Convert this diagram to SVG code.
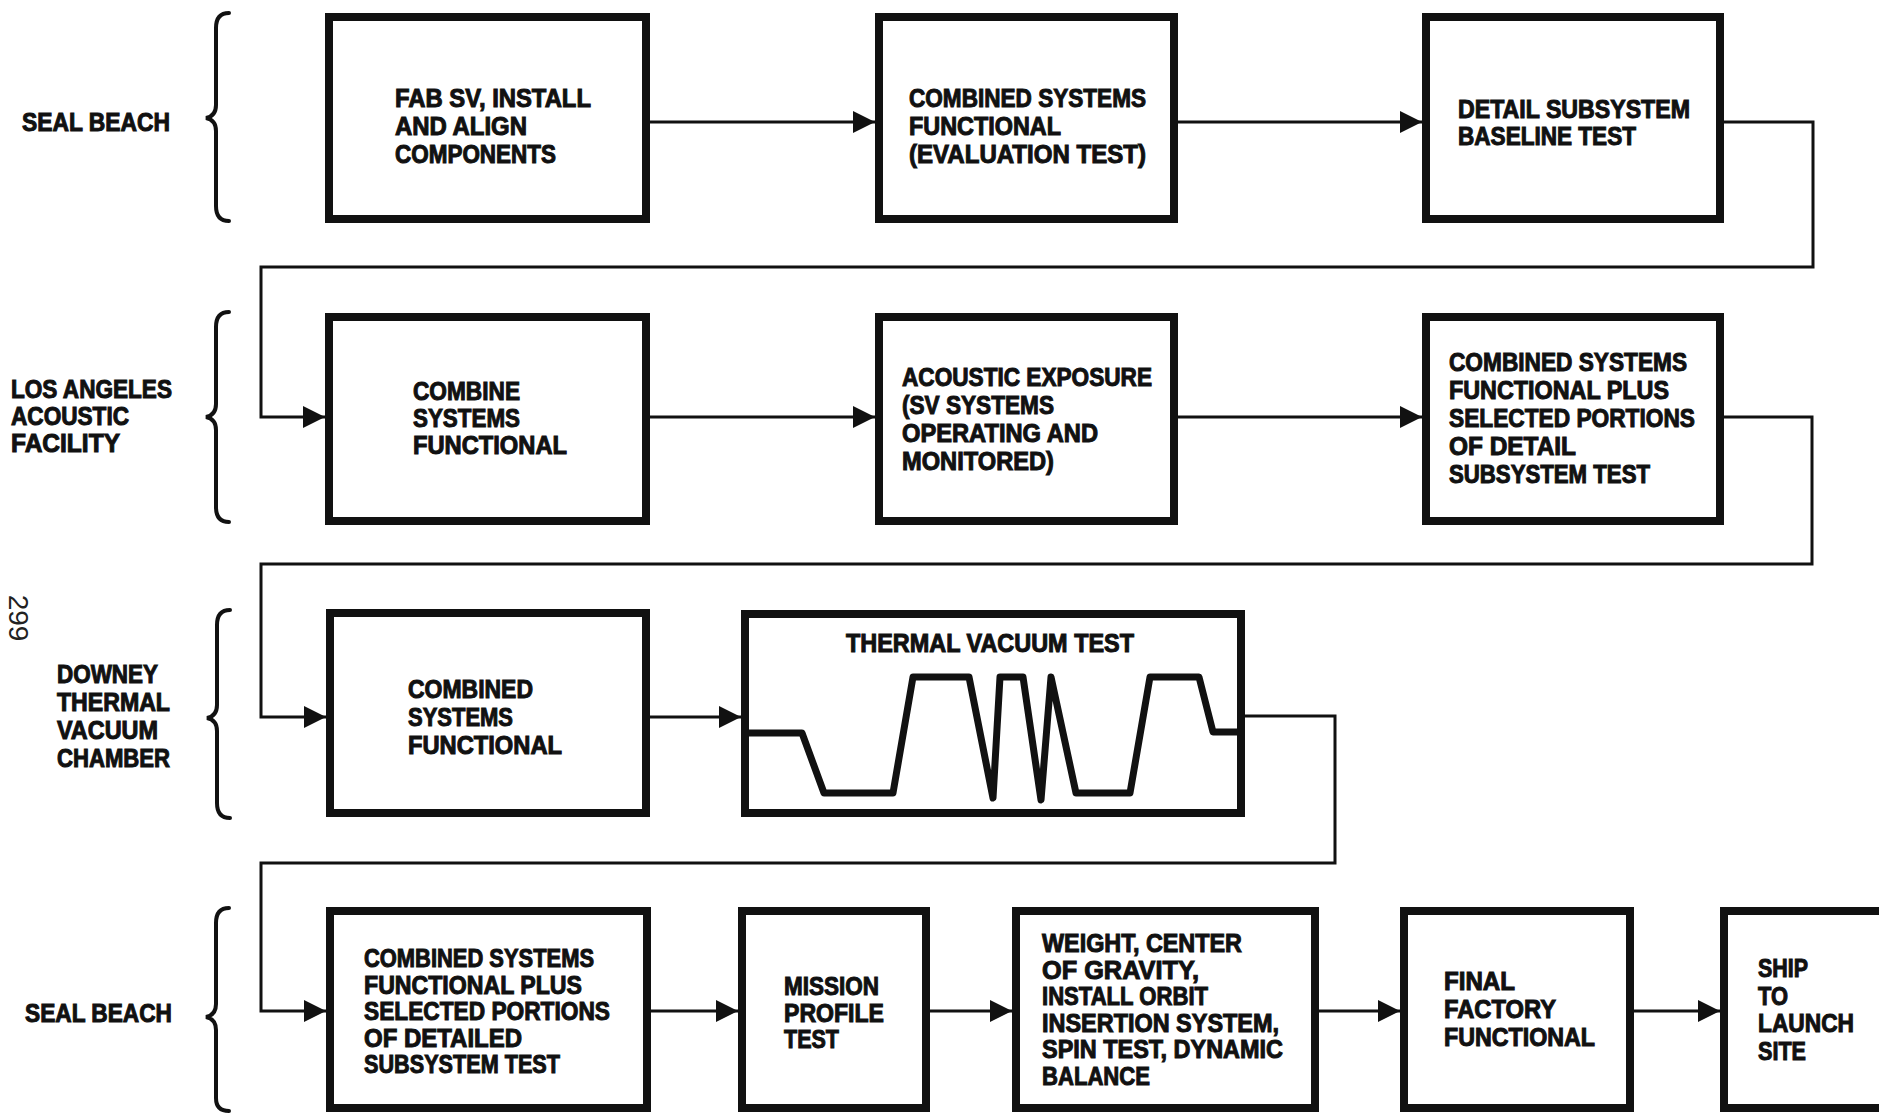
<svg xmlns="http://www.w3.org/2000/svg" width="1879" height="1113" viewBox="0 0 1879 1113">
<style>
.bg{fill:#fff}
.box{fill:#fff;stroke:#111;stroke-width:8}
.t{font-family:"Liberation Sans",Arial,sans-serif;font-weight:bold;font-size:25px;fill:#111;stroke:#111;stroke-width:1}
.conn{fill:none;stroke:#111;stroke-width:3}
.brace{fill:none;stroke:#111;stroke-width:4;stroke-linecap:round}
.wave{fill:none;stroke:#111;stroke-width:7;stroke-linejoin:round}
.pg{font-family:"Liberation Sans",Arial,sans-serif;font-size:28px;fill:#222}
</style>
<defs>
<marker id="ah" viewBox="0 0 22 22" refX="22" refY="11" markerWidth="22" markerHeight="22" markerUnits="userSpaceOnUse" orient="auto">
<path d="M0,0 L22,11 L0,22 z" fill="#111"/>
</marker>
</defs>
<rect class="bg" x="0" y="0" width="1879" height="1113"/>

<g id="page-number">
<text class="pg" transform="translate(9,618) rotate(90)" text-anchor="middle">299</text>
</g>

<g id="labels">
<path class="brace" d="M229,13 Q216,13 216,28 L216,105 Q216,116 206,118 Q216,120 216,131 L216,206 Q216,221 229,221"/>
<text class="t" x="22" y="131" textLength="148" lengthAdjust="spacingAndGlyphs">SEAL BEACH</text>

<path class="brace" d="M229,312 Q216,312 216,327 L216,404 Q216,415 206,417 Q216,419 216,430 L216,507 Q216,522 229,522"/>
<text class="t" x="11" y="398" textLength="161" lengthAdjust="spacingAndGlyphs">LOS ANGELES</text>
<text class="t" x="11" y="425" textLength="118" lengthAdjust="spacingAndGlyphs">ACOUSTIC</text>
<text class="t" x="11" y="452" textLength="109" lengthAdjust="spacingAndGlyphs">FACILITY</text>

<path class="brace" d="M230,610 Q217,610 217,625 L217,705 Q217,716 207,718 Q217,720 217,731 L217,803 Q217,818 230,818"/>
<text class="t" x="57" y="683" textLength="101" lengthAdjust="spacingAndGlyphs">DOWNEY</text>
<text class="t" x="57" y="711" textLength="113" lengthAdjust="spacingAndGlyphs">THERMAL</text>
<text class="t" x="57" y="739" textLength="101" lengthAdjust="spacingAndGlyphs">VACUUM</text>
<text class="t" x="57" y="767" textLength="113" lengthAdjust="spacingAndGlyphs">CHAMBER</text>

<path class="brace" d="M229,908 Q216,908 216,923 L216,1004 Q216,1015 206,1017 Q216,1019 216,1030 L216,1098 Q216,1111 229,1111"/>
<text class="t" x="25" y="1022" textLength="147" lengthAdjust="spacingAndGlyphs">SEAL BEACH</text>
</g>

<g id="connectors">
<path class="conn" d="M650,122 H875" marker-end="url(#ah)"/>
<path class="conn" d="M1178,122 H1422" marker-end="url(#ah)"/>
<path class="conn" d="M1724,122 H1813 V267 H261 V417 H325" marker-end="url(#ah)"/>
<path class="conn" d="M650,417 H875" marker-end="url(#ah)"/>
<path class="conn" d="M1178,417 H1422" marker-end="url(#ah)"/>
<path class="conn" d="M1724,417 H1812 V564 H261 V717 H326" marker-end="url(#ah)"/>
<path class="conn" d="M650,717 H741" marker-end="url(#ah)"/>
<path class="conn" d="M1245,716 H1335 V863 H261 V1011 H326" marker-end="url(#ah)"/>
<path class="conn" d="M651,1011 H738" marker-end="url(#ah)"/>
<path class="conn" d="M930,1011 H1012" marker-end="url(#ah)"/>
<path class="conn" d="M1319,1011 H1400" marker-end="url(#ah)"/>
<path class="conn" d="M1634,1011 H1720" marker-end="url(#ah)"/>
</g>

<g id="n1">
<rect class="box" x="329" y="17" width="317" height="202"/>
<text class="t" x="395" y="107" textLength="196" lengthAdjust="spacingAndGlyphs">FAB SV, INSTALL</text>
<text class="t" x="395" y="135" textLength="132" lengthAdjust="spacingAndGlyphs">AND ALIGN</text>
<text class="t" x="395" y="163" textLength="161" lengthAdjust="spacingAndGlyphs">COMPONENTS</text>
</g>

<g id="n2">
<rect class="box" x="879" y="17" width="295" height="202"/>
<text class="t" x="909" y="107" textLength="237" lengthAdjust="spacingAndGlyphs">COMBINED SYSTEMS</text>
<text class="t" x="909" y="135" textLength="152" lengthAdjust="spacingAndGlyphs">FUNCTIONAL</text>
<text class="t" x="909" y="163" textLength="237" lengthAdjust="spacingAndGlyphs">(EVALUATION TEST)</text>
</g>

<g id="n3">
<rect class="box" x="1426" y="17" width="294" height="202"/>
<text class="t" x="1458" y="118" textLength="232" lengthAdjust="spacingAndGlyphs">DETAIL SUBSYSTEM</text>
<text class="t" x="1458" y="145" textLength="178" lengthAdjust="spacingAndGlyphs">BASELINE TEST</text>
</g>

<g id="n4">
<rect class="box" x="329" y="317" width="317" height="204"/>
<text class="t" x="413" y="400" textLength="107" lengthAdjust="spacingAndGlyphs">COMBINE</text>
<text class="t" x="413" y="427" textLength="107" lengthAdjust="spacingAndGlyphs">SYSTEMS</text>
<text class="t" x="413" y="454" textLength="154" lengthAdjust="spacingAndGlyphs">FUNCTIONAL</text>
</g>

<g id="n5">
<rect class="box" x="879" y="317" width="295" height="204"/>
<text class="t" x="902" y="386" textLength="250" lengthAdjust="spacingAndGlyphs">ACOUSTIC EXPOSURE</text>
<text class="t" x="902" y="414" textLength="152" lengthAdjust="spacingAndGlyphs">(SV SYSTEMS</text>
<text class="t" x="902" y="442" textLength="196" lengthAdjust="spacingAndGlyphs">OPERATING AND</text>
<text class="t" x="902" y="470" textLength="152" lengthAdjust="spacingAndGlyphs">MONITORED)</text>
</g>

<g id="n6">
<rect class="box" x="1426" y="317" width="294" height="204"/>
<text class="t" x="1449" y="371" textLength="238" lengthAdjust="spacingAndGlyphs">COMBINED SYSTEMS</text>
<text class="t" x="1449" y="399" textLength="220" lengthAdjust="spacingAndGlyphs">FUNCTIONAL PLUS</text>
<text class="t" x="1449" y="427" textLength="246" lengthAdjust="spacingAndGlyphs">SELECTED PORTIONS</text>
<text class="t" x="1449" y="455" textLength="127" lengthAdjust="spacingAndGlyphs">OF DETAIL</text>
<text class="t" x="1449" y="483" textLength="201" lengthAdjust="spacingAndGlyphs">SUBSYSTEM TEST</text>
</g>

<g id="n7">
<rect class="box" x="330" y="613" width="316" height="200"/>
<text class="t" x="408" y="698" textLength="125" lengthAdjust="spacingAndGlyphs">COMBINED</text>
<text class="t" x="408" y="726" textLength="105" lengthAdjust="spacingAndGlyphs">SYSTEMS</text>
<text class="t" x="408" y="754" textLength="154" lengthAdjust="spacingAndGlyphs">FUNCTIONAL</text>
</g>

<g id="n8">
<rect class="box" x="745" y="614" width="496" height="199"/>
<text class="t" x="846" y="652" textLength="288" lengthAdjust="spacingAndGlyphs">THERMAL VACUUM TEST</text>
<path class="wave" d="M746,733 H802 L824,793 H893 L913,677 H969 L993,798 L1000,677 H1023 L1041,800 L1051,677 L1076,793 H1130 L1150,677 H1199 L1213,732 H1241"/>
</g>

<g id="n9">
<rect class="box" x="330" y="911" width="317" height="197"/>
<text class="t" x="364" y="967" textLength="230" lengthAdjust="spacingAndGlyphs">COMBINED SYSTEMS</text>
<text class="t" x="364" y="994" textLength="218" lengthAdjust="spacingAndGlyphs">FUNCTIONAL PLUS</text>
<text class="t" x="364" y="1020" textLength="246" lengthAdjust="spacingAndGlyphs">SELECTED PORTIONS</text>
<text class="t" x="364" y="1047" textLength="158" lengthAdjust="spacingAndGlyphs">OF DETAILED</text>
<text class="t" x="364" y="1073" textLength="196" lengthAdjust="spacingAndGlyphs">SUBSYSTEM TEST</text>
</g>

<g id="n10">
<rect class="box" x="742" y="911" width="184" height="197"/>
<text class="t" x="784" y="995" textLength="95" lengthAdjust="spacingAndGlyphs">MISSION</text>
<text class="t" x="784" y="1022" textLength="100" lengthAdjust="spacingAndGlyphs">PROFILE</text>
<text class="t" x="784" y="1048" textLength="55" lengthAdjust="spacingAndGlyphs">TEST</text>
</g>

<g id="n11">
<rect class="box" x="1016" y="911" width="299" height="197"/>
<text class="t" x="1042" y="952" textLength="200" lengthAdjust="spacingAndGlyphs">WEIGHT, CENTER</text>
<text class="t" x="1042" y="979" textLength="157" lengthAdjust="spacingAndGlyphs">OF GRAVITY,</text>
<text class="t" x="1042" y="1005" textLength="166" lengthAdjust="spacingAndGlyphs">INSTALL ORBIT</text>
<text class="t" x="1042" y="1032" textLength="237" lengthAdjust="spacingAndGlyphs">INSERTION SYSTEM,</text>
<text class="t" x="1042" y="1058" textLength="241" lengthAdjust="spacingAndGlyphs">SPIN TEST, DYNAMIC</text>
<text class="t" x="1042" y="1085" textLength="108" lengthAdjust="spacingAndGlyphs">BALANCE</text>
</g>

<g id="n12">
<rect class="box" x="1404" y="911" width="226" height="197"/>
<text class="t" x="1444" y="990" textLength="71" lengthAdjust="spacingAndGlyphs">FINAL</text>
<text class="t" x="1444" y="1018" textLength="112" lengthAdjust="spacingAndGlyphs">FACTORY</text>
<text class="t" x="1444" y="1046" textLength="151" lengthAdjust="spacingAndGlyphs">FUNCTIONAL</text>
</g>

<g id="n13">
<rect class="box" x="1724" y="911" width="200" height="197"/>
<text class="t" x="1758" y="977" textLength="50" lengthAdjust="spacingAndGlyphs">SHIP</text>
<text class="t" x="1758" y="1005" textLength="30" lengthAdjust="spacingAndGlyphs">TO</text>
<text class="t" x="1758" y="1032" textLength="96" lengthAdjust="spacingAndGlyphs">LAUNCH</text>
<text class="t" x="1758" y="1060" textLength="48" lengthAdjust="spacingAndGlyphs">SITE</text>
</g>
</svg>
